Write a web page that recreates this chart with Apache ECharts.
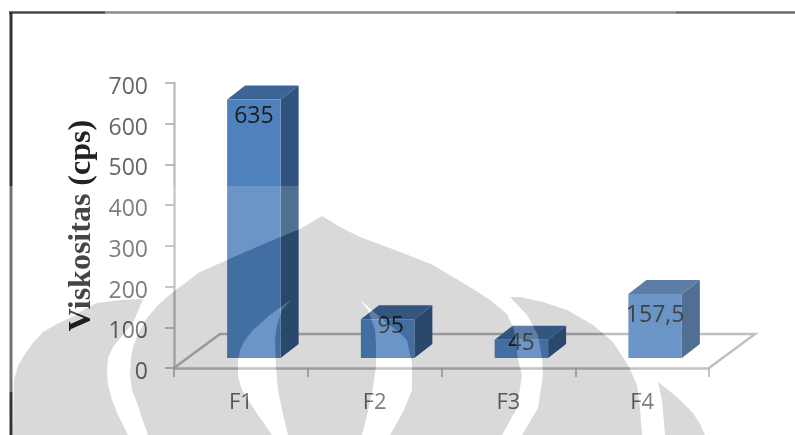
<!DOCTYPE html>
<html>
<head>
<meta charset="utf-8">
<script src="https://cdn.jsdelivr.net/npm/echarts@6/dist/echarts.min.js"></script>
<style>
html,body{margin:0;padding:0;background:#fff}
#chart{width:795px;height:435px;filter:blur(0.6px)}
</style>
</head>
<body>
<div id="chart"></div>
<script>
// ---- data ----
const categories = ['F1', 'F2', 'F3', 'F4'];
const viscosity = [635, 95, 45, 157.5];
const yTicks = {min: 0, max: 700, interval: 100};
const yTitle = 'Viskositas (cps)';

// ---- 3D look ----
const FLOOR = {dx: 46, dy: -34};
const BAR = {liftY: -10, shiftX: 13, widthRatio: 0.4, dx: 18, dy: -14};
const LABEL_DY = [17, 7, 4, 22];
const LABEL_DX = [0, 3, 0, 0];
const COLORS = {front: '#4f81bd', top: '#3c6596', side: '#30547f', floor: '#b4b4b4'};

// ---- scanned-page watermark (decoration, page pixels) ----
const outerLeft = [[13,435],[14,380],[18,366],[23,357],[32,344],[43,332],[57,324],[72,317],[85,309],[97,303],[120,300],[143,299],[133,323],[122,336],[113,347],[108,358],[107,370],[108,385],[112,400],[118,415],[128,435]];
const crescentA = [[272,435],[258,415],[250,403],[242,390],[238,377],[238,362],[240,350],[245,340],[253,330],[270,315],[292,299],[282,310],[277,325],[275,340],[276,367],[278,390],[282,410],[288,435]];
const crescentB = [[362,435],[367,415],[372,393],[376,367],[376,345],[375,330],[368,310],[360,300],[387,323],[400,333],[407,340],[412,363],[412,390],[403,412],[390,435]];
const middle = [[148,435],[142,418],[137,403],[132,390],[130,375],[131,358],[133,347],[139,332],[147,318],[158,305],[173,292],[200,272],[227,260],[257,247],[278,238],[300,229],[322,216],[340,227],[360,237],[387,247],[413,257],[433,265],[453,277],[470,287],[490,300],[507,314],[514,330],[518,360],[522,375],[517,408],[502,435]];
const outerRight = [[522,435],[538,408],[543,375],[542,358],[538,335],[527,315],[510,297],[520,297],[543,302],[567,310],[593,325],[613,342],[628,365],[637,385],[640,408],[642,435]];
const farRight = [[665,435],[662,400],[658,382],[677,397],[693,413],[700,424],[705,435]];

// middle dome with both crescents cut out of its lower edge
const middleCut = middle.slice(0, 1).concat(
  crescentA, crescentB,
  middle.slice(-1), middle.slice(1, -1).reverse()
);
// everything below the page seam that is not watermark is washed out a little
const washed = [[0,186],[795,186],[795,435]]
  .concat(farRight.slice().reverse(), outerRight.slice().reverse(),
          middle.slice().reverse(), outerLeft.slice().reverse(), [[0,435]]);

function wmPoly(points, z) {
  return {type: 'polygon', silent: true, z: z, shape: {points: points},
          style: {fill: '#d9d9d9', blend: 'multiply'}};
}
function washPoly(points) {
  return {type: 'polygon', silent: true, z: 100, shape: {points: points},
          style: {fill: 'rgba(255,255,255,0.16)'}};
}
function rule(x1, y1, x2, y2, color, w) {
  return {type: 'line', silent: true, z: 120, shape: {x1, y1, x2, y2},
          style: {stroke: color, lineWidth: w}};
}

function renderFloor(params, api) {
  const c = params.coordSys;
  const x0 = c.x, x1 = c.x + c.width, y0 = c.y + c.height;
  return {
    type: 'polyline',
    silent: true,
    shape: {points: [[x0, y0], [x0 + FLOOR.dx, y0 + FLOOR.dy], [x1 + FLOOR.dx, y0 + FLOOR.dy], [x1, y0]]},
    style: {stroke: COLORS.floor, lineWidth: 2.5, fill: 'none'}
  };
}

function renderBar(params, api) {
  const i = api.value(0);
  const v = api.value(1);
  const band = api.size([1, 0])[0];
  const w = band * BAR.widthRatio;
  const base = api.coord([i, 0]);
  const topP = api.coord([i, v]);
  const l = base[0] + BAR.shiftX - w / 2, r = l + w;
  const b = base[1] + BAR.liftY, t = topP[1] + BAR.liftY;
  const dx = BAR.dx, dy = BAR.dy;
  return {
    type: 'group',
    children: [
      {type: 'polygon', shape: {points: [[r, b], [r + dx, b + dy], [r + dx, t + dy], [r, t]]}, style: {fill: COLORS.side}},
      {type: 'polygon', shape: {points: [[l, t], [r, t], [r + dx, t + dy], [l + dx, t + dy]]}, style: {fill: COLORS.top}},
      {type: 'rect', shape: {x: l, y: t, width: w, height: b - t}, style: {fill: COLORS.front}},
      {type: 'text', x: (l + r) / 2 + LABEL_DX[i], y: t + LABEL_DY[i], z2: 5,
       style: {text: String(v).replace('.', ','), fill: '#1c1c1c', font: '23px "Open Sans"', align: 'center', verticalAlign: 'middle'}}
    ]
  };
}

const chart = echarts.init(document.getElementById('chart'), null, {renderer: 'canvas'});
chart.setOption({
  backgroundColor: '#fff',
  animation: false,
  grid: {left: 174, right: 86, top: 83, bottom: 67, containLabel: false},
  xAxis: {
    type: 'category',
    data: categories,
    axisLine: {lineStyle: {color: '#b8b8b8', width: 2.5}},
    axisTick: {show: true, alignWithLabel: false, length: 9, lineStyle: {color: '#a8a8a8', width: 1.5}},
    axisLabel: {color: '#666', fontSize: 22, fontFamily: 'Open Sans', margin: 24}
  },
  yAxis: {
    type: 'value',
    min: yTicks.min, max: yTicks.max, interval: yTicks.interval,
    name: yTitle,
    nameLocation: 'middle',
    nameGap: 72,
    nameTextStyle: {color: '#222', fontFamily: 'Liberation Serif', fontWeight: 'bold', fontSize: 32},
    axisLine: {show: true, lineStyle: {color: '#c0c0c0', width: 2.5}},
    axisTick: {show: true, length: 9, lineStyle: {color: '#a8a8a8', width: 1.5}},
    axisLabel: {color: '#666', fontSize: 23, fontFamily: 'Open Sans', margin: 26, verticalAlign: 'top', lineHeight: 9},
    splitLine: {show: false}
  },
  series: [
    {type: 'custom', z: 1, silent: true, clip: false, renderItem: renderFloor, data: [[0, 0]], encode: {x: 0, y: 1}},
    {type: 'custom', z: 3, silent: true, clip: false, renderItem: renderBar,
     data: categories.map((c, i) => [i, viscosity[i]]), encode: {x: 0, y: 1}}
  ],
  graphic: {elements: [
    washPoly(washed), washPoly(crescentA), washPoly(crescentB),
    wmPoly(outerLeft, 110), wmPoly(middleCut, 110), wmPoly(outerRight, 110), wmPoly(farRight, 110),
    rule(9, 12.5, 105, 12.5, '#4a4a44', 2.5),
    rule(105, 12.5, 676, 12.5, '#8c8c84', 2.5),
    rule(676, 12.5, 795, 12.5, '#6a6a64', 2.5),
    rule(11, 12, 11, 186, '#33332d', 3),
    rule(11, 186, 11, 392, '#77736a', 3),
    rule(11, 392, 11, 435, '#33332d', 3)
  ]}
});
</script>
</body>
</html>
